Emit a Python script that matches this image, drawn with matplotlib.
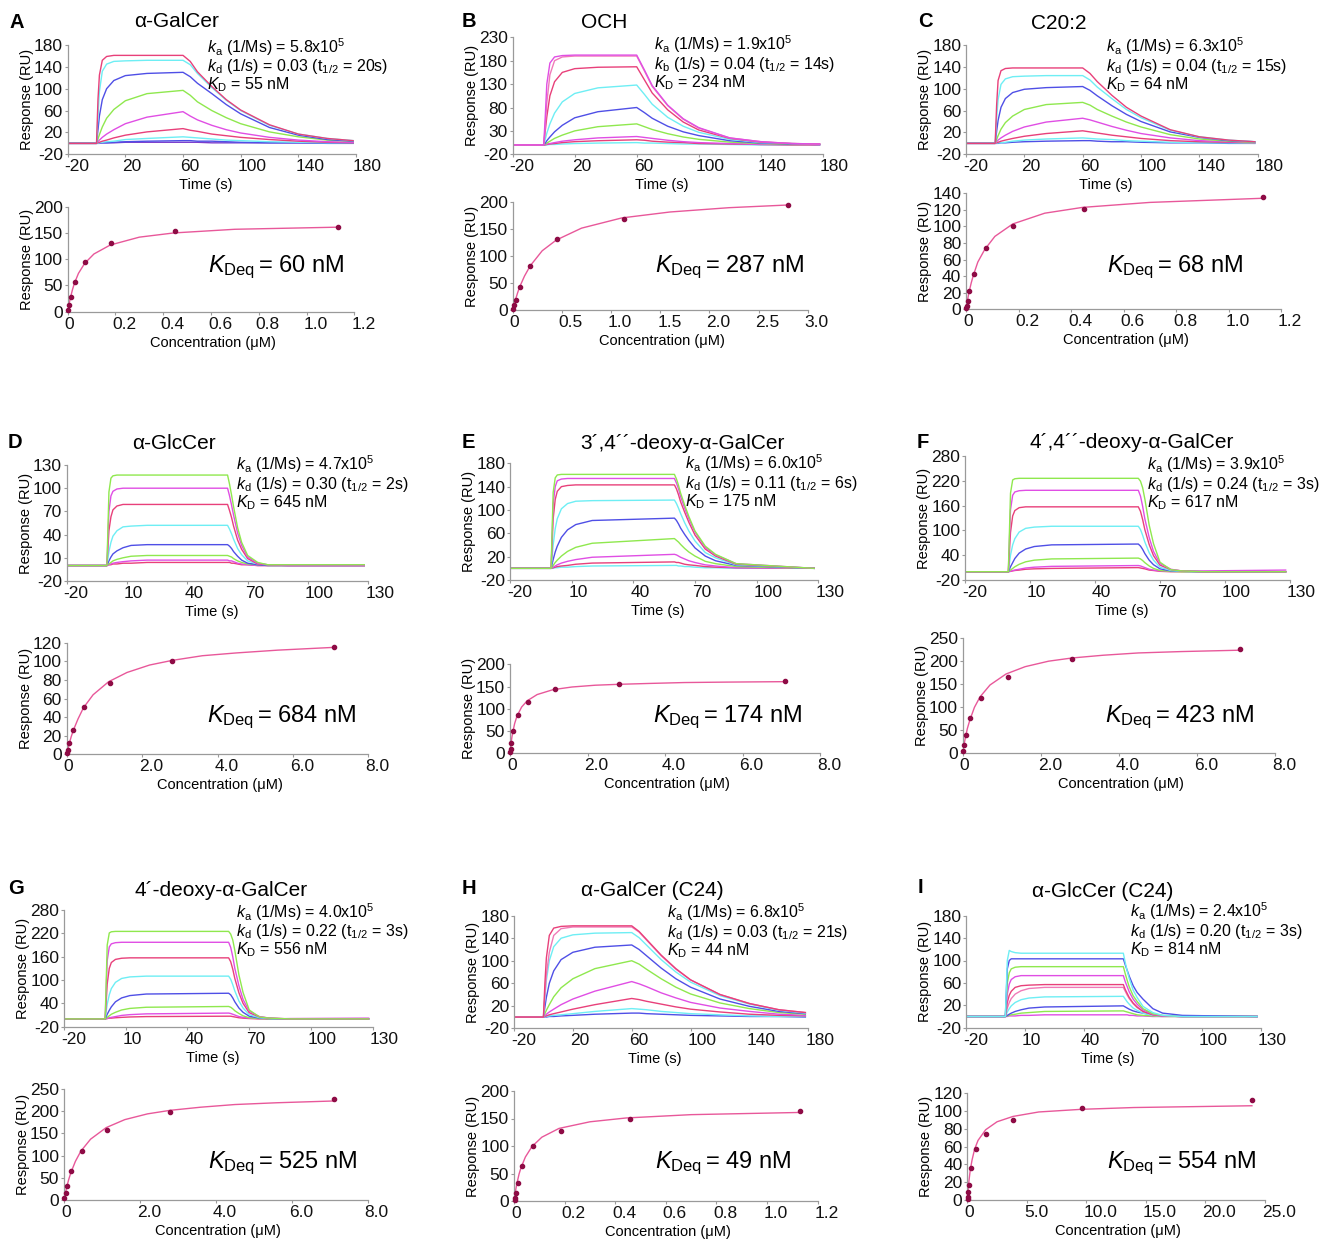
import matplotlib.pyplot as plt
from matplotlib.transforms import ScaledTranslation

plt.rcParams['font.family'] = ['Liberation Sans', 'DejaVu Sans']
plt.rcParams['mathtext.fontset'] = 'custom'
plt.rcParams['mathtext.rm'] = 'Liberation Sans'
plt.rcParams['mathtext.it'] = 'Liberation Sans:italic'
plt.rcParams['mathtext.bf'] = 'Liberation Sans:bold'

W, H = 1325, 1239

# ---- sensorgram time grids (s)
t_slow = [-20, 0, 1, 2, 4, 7, 12, 20, 35, 60, 65, 70, 80, 90, 100, 120, 140, 160, 178]
t_fast = [-20, 0, 1, 2, 3, 5, 8, 12, 20, 60, 61, 62, 63, 65, 67, 70, 75, 80, 90, 128]

# ---- sensorgram responses (RU), one list per injected concentration
sens_a = [
    [0, 0, 80, 125, 152, 159, 161, 161, 161, 161, 150, 131, 104, 80, 61, 34, 17, 9, 5],
    [0, 0, 50, 95, 132, 145, 150, 151, 152, 152, 144, 128, 102, 79, 60, 33, 17, 9, 5],
    [0, 0, 25, 50, 80, 100, 115, 124, 128, 130, 122, 110, 91, 71, 54, 29, 15, 7, 4],
    [0, 0, 8, 16, 30, 46, 62, 78, 91, 97, 88, 76, 60, 47, 36, 21, 12, 6, 4],
    [0, 0, 3, 6, 11, 17, 25, 36, 48, 58, 50, 43, 33, 25, 19, 11, 6, 3, 2],
    [0, 0, 1, 2, 4, 6, 10, 15, 21, 27, 24, 22, 17, 14, 11, 7, 4, 2, 1],
    [0, 0, 0, 1, 2, 3, 4, 7, 9, 12, 11, 10, 8, 6, 5, 3, 2, 1, 1],
    [0, 0, 0, 0, 1, 1, 2, 3, 4, 5, 5, 4, 4, 3, 2, 1, 1, 0, 0],
    [1, 1, 1, 1, 1, 1, 1, 2, 2, 2, 2, 2, 1, 1, 1, 1, 1, 1, 1],
]
sens_b = [
    [0, 0, 60, 130, 175, 188, 191, 192, 192, 192, 160, 127, 85, 56, 37, 15, 7, 3, 2],
    [0, 0, 40, 90, 150, 180, 188, 190, 190, 190, 158, 125, 84, 55, 36, 15, 7, 3, 2],
    [0, 0, 30, 60, 105, 135, 155, 163, 166, 167, 139, 111, 75, 49, 32, 14, 6, 3, 2],
    [0, 0, 12, 25, 45, 68, 92, 110, 122, 128, 108, 87, 59, 40, 27, 12, 5, 3, 1],
    [0, 0, 4, 9, 17, 28, 42, 58, 71, 80, 69, 57, 40, 28, 20, 9, 4, 2, 1],
    [0, 0, 2, 4, 8, 14, 21, 30, 39, 45, 39, 33, 24, 17, 12, 6, 3, 1, 1],
    [0, 0, 1, 2, 3, 5, 8, 11, 15, 18, 16, 14, 10, 7, 5, 3, 1, 1, 0],
    [0, 0, 0, 1, 2, 3, 5, 7, 9, 11, 10, 8, 6, 5, 3, 2, 1, 0, 0],
    [0, 0, 0, 0, 1, 1, 2, 3, 4, 5, 4, 4, 3, 2, 2, 1, 0, 0, 0],
]
sens_c = [
    [0, 0, 70, 115, 133, 137, 138, 138, 138, 138, 128, 113, 88, 66, 50, 25, 12, 6, 3],
    [0, 0, 45, 80, 108, 118, 122, 123, 124, 124, 116, 103, 82, 62, 47, 24, 12, 6, 3],
    [0, 0, 22, 42, 66, 82, 93, 99, 102, 104, 97, 87, 69, 53, 40, 21, 11, 5, 3],
    [0, 0, 7, 14, 26, 38, 50, 62, 71, 75, 70, 62, 50, 39, 30, 16, 8, 4, 2],
    [0, 0, 3, 6, 10, 15, 22, 30, 39, 46, 43, 39, 31, 24, 18, 10, 5, 3, 2],
    [0, 0, 1, 2, 4, 6, 9, 13, 18, 23, 21, 19, 15, 12, 9, 5, 3, 2, 1],
    [0, 0, 0, 1, 1, 2, 4, 6, 8, 10, 9, 8, 7, 5, 4, 2, 1, 1, 0],
    [0, 0, 0, 0, 1, 1, 2, 3, 4, 5, 5, 4, 3, 3, 2, 1, 1, 0, 0],
]
sens_d = [
    [0, 0, 95, 113, 116, 117, 117, 117, 117, 117, 105, 91, 76, 49, 30, 13, 4, 1, 1, 1],
    [0, 0, 70, 90, 96, 99, 100, 100, 100, 100, 90, 78, 65, 42, 26, 11, 3, 1, 0, 0],
    [0, 0, 45, 63, 72, 77, 79, 79, 79, 79, 71, 62, 51, 33, 21, 9, 2, 1, 0, 0],
    [0, 0, 18, 30, 38, 45, 50, 51, 52, 52, 47, 41, 34, 22, 14, 6, 2, 1, 0, 0],
    [0, 0, 6, 11, 15, 19, 23, 26, 27, 27, 25, 22, 18, 12, 7, 3, 1, 0, 0, 0],
    [0, 0, 2, 4, 6, 8, 10, 12, 13, 13, 12, 11, 9, 6, 4, 2, 1, 0, 0, 0],
    [0, 0, 1, 2, 3, 4, 5, 6, 7, 7, 6, 6, 5, 3, 2, 1, 0, 0, 0, 0],
    [0, 0, 1, 1, 2, 2, 3, 3, 4, 4, 4, 3, 3, 2, 1, 1, 0, 0, 0, 0],
]
sens_e = [
    [0, 0, 130, 155, 160, 161, 161, 161, 161, 161, 153, 142, 129, 108, 89, 64, 38, 24, 8, 0],
    [0, 0, 110, 140, 150, 153, 154, 154, 154, 154, 146, 136, 123, 103, 85, 62, 36, 23, 8, 0],
    [0, 0, 85, 118, 132, 140, 142, 143, 143, 143, 136, 126, 114, 96, 79, 57, 33, 21, 7, 0],
    [0, 0, 40, 68, 85, 102, 111, 115, 116, 117, 111, 103, 94, 78, 64, 47, 27, 18, 6, 0],
    [0, 0, 15, 28, 38, 53, 66, 75, 82, 86, 82, 76, 69, 58, 48, 35, 21, 13, 5, 0],
    [0, 0, 5, 10, 14, 21, 29, 36, 43, 51, 48, 45, 41, 34, 28, 21, 12, 8, 3, 0],
    [0, 0, 2, 4, 6, 9, 12, 15, 19, 24, 23, 21, 19, 16, 13, 10, 6, 4, 1, 0],
    [0, 0, 1, 2, 3, 4, 5, 7, 9, 11, 10, 10, 9, 7, 6, 5, 3, 2, 1, 0],
    [0, 0, 0, 1, 1, 2, 2, 3, 4, 5, 5, 4, 4, 3, 3, 2, 1, 1, 0, 0],
]
sens_f = [
    [0, 0, 190, 222, 225, 226, 226, 226, 226, 226, 219, 203, 176, 113, 68, 23, 5, 2, 0, 0],
    [0, 0, 150, 185, 193, 196, 197, 197, 197, 197, 183, 158, 128, 83, 49, 20, 6, 2, 0, 0],
    [0, 0, 95, 135, 148, 155, 157, 157, 157, 157, 146, 126, 102, 66, 39, 16, 5, 2, 0, 0],
    [0, 0, 40, 65, 80, 96, 105, 108, 110, 110, 102, 88, 72, 46, 28, 11, 3, 1, 0, 0],
    [0, 0, 12, 22, 32, 45, 55, 61, 65, 67, 62, 54, 44, 28, 17, 7, 2, 1, 0, 0],
    [0, 0, 4, 8, 12, 18, 24, 28, 31, 33, 31, 27, 22, 14, 8, 3, 1, 0, 0, 0],
    [0, 0, 1, 3, 4, 6, 9, 11, 13, 15, 14, 12, 10, 6, 4, 2, 1, 1, 2, 4],
    [0, 0, 1, 2, 3, 4, 6, 7, 8, 10, 9, 8, 7, 4, 3, 1, 0, 0, 0, 0],
]
sens_g = [
    [0, 0, 190, 221, 224, 225, 225, 225, 225, 225, 218, 203, 176, 113, 68, 23, 5, 2, 0, 0],
    [0, 0, 150, 185, 193, 196, 197, 197, 197, 197, 184, 160, 130, 85, 50, 20, 6, 2, 0, 0],
    [0, 0, 90, 130, 145, 153, 156, 157, 157, 157, 147, 128, 104, 67, 40, 16, 5, 2, 0, 0],
    [0, 0, 38, 62, 78, 94, 104, 108, 110, 110, 102, 88, 72, 46, 28, 11, 3, 1, 0, 0],
    [0, 0, 12, 22, 31, 44, 54, 60, 64, 66, 62, 54, 44, 28, 17, 7, 2, 1, 0, 0],
    [0, 0, 4, 8, 12, 17, 23, 27, 30, 32, 30, 26, 21, 14, 8, 3, 1, 0, 0, 0],
    [0, 0, 1, 3, 4, 6, 9, 11, 13, 15, 14, 12, 10, 6, 4, 2, 1, 0, 1, 2],
    [0, 0, 1, 2, 2, 3, 4, 5, 6, 7, 7, 6, 5, 3, 2, 1, 0, 0, 0, 0],
]
sens_h = [
    [0, 0, 60, 105, 145, 158, 161, 162, 162, 162, 152, 138, 110, 86, 66, 40, 24, 13, 8],
    [0, 0, 40, 75, 115, 145, 157, 160, 160, 160, 151, 137, 109, 85, 66, 40, 24, 13, 8],
    [0, 0, 35, 65, 100, 125, 140, 146, 149, 150, 141, 128, 102, 80, 62, 38, 23, 12, 7],
    [0, 0, 18, 35, 60, 82, 102, 115, 124, 128, 120, 109, 87, 68, 53, 32, 19, 10, 6],
    [0, 0, 6, 12, 22, 36, 52, 68, 86, 100, 94, 85, 68, 53, 41, 25, 15, 8, 5],
    [0, 0, 2, 5, 9, 14, 22, 32, 46, 63, 59, 54, 43, 34, 26, 16, 10, 5, 3],
    [0, 0, 1, 2, 4, 6, 9, 14, 22, 33, 31, 28, 23, 18, 14, 9, 5, 3, 2],
    [0, 0, 0, 1, 2, 3, 4, 6, 10, 15, 14, 13, 10, 8, 6, 4, 2, 1, 1],
    [0, 0, 0, 0, 1, 1, 2, 3, 5, 7, 7, 6, 5, 4, 3, 2, 1, 1, 0],
]
sens_i = [
    [0, 0, 100, 118, 116, 114, 113, 113, 113, 113, 96, 81, 68, 47, 34, 18, 7, 2, 0, 0],
    [0, 0, 85, 100, 103, 103, 103, 103, 103, 103, 92, 82, 72, 55, 43, 31, 14, 6, 2, 0],
    [0, 0, 60, 78, 85, 88, 89, 89, 89, 89, 76, 64, 53, 37, 27, 14, 5, 2, 0, 0],
    [0, 0, 40, 58, 66, 71, 73, 73, 73, 73, 62, 53, 44, 31, 22, 12, 4, 1, 0, 0],
    [0, 0, 25, 38, 45, 52, 55, 56, 57, 57, 48, 41, 34, 24, 17, 9, 3, 1, 0, 0],
    [0, 0, 15, 25, 32, 40, 46, 50, 52, 52, 45, 38, 32, 23, 16, 9, 3, 1, 0, 0],
    [0, 0, 8, 14, 19, 25, 30, 33, 35, 36, 31, 26, 22, 15, 11, 6, 2, 1, 0, 0],
    [0, 0, 2, 4, 6, 9, 12, 15, 17, 19, 17, 15, 13, 10, 8, 6, 3, 1, 0, 0],
    [0, 0, 1, 2, 3, 4, 6, 7, 9, 10, 9, 8, 7, 5, 3, 2, 1, 0, 0, 0],
    [0, 0, 0, 1, 1, 1, 2, 2, 3, 3, 3, 3, 2, 2, 1, 1, 0, 0, 0, 0],
]

# ---- steady-state points (uM, RU) and fitted curve
conc_a = [1.13, 0.45, 0.18, 0.073, 0.029, 0.012, 0.005, 0.002]
resp_a = [162, 153, 130, 95, 57, 28, 12, 4]
fit_a_x = [0, 0.005, 0.011, 0.02, 0.028, 0.045, 0.071, 0.11, 0.178, 0.3, 0.444, 0.7, 1.13]
fit_a_y = [0, 13, 26, 42, 54, 73, 92, 110, 127, 142, 150, 157, 161]

conc_b = [2.8, 1.13, 0.45, 0.18, 0.075, 0.03, 0.012, 0.004]
resp_b = [195, 169, 131, 82, 43, 19, 9, 2]
fit_b_x = [0, 0.01, 0.028, 0.05, 0.071, 0.12, 0.178, 0.3, 0.444, 0.7, 1.11, 1.6, 2.2, 2.8]
fit_b_y = [0, 7, 19, 32, 43, 63, 82, 110, 130, 152, 171, 182, 190, 195]

conc_c = [1.13, 0.45, 0.18, 0.075, 0.03, 0.013, 0.006, 0.003, 0.001]
resp_c = [136, 121, 101, 74, 43, 22, 10, 4, 1]
fit_c_x = [0, 0.005, 0.011, 0.02, 0.028, 0.045, 0.071, 0.11, 0.178, 0.3, 0.444, 0.7, 1.13]
fit_c_y = [0, 10, 20, 32, 41, 57, 72, 88, 103, 116, 123, 129, 134]

conc_d = [7.1, 2.8, 1.15, 0.47, 0.18, 0.07, 0.03, 0.01]
resp_d = [115, 100, 77, 51, 26, 12, 5, 1]
fit_d_x = [0, 0.03, 0.071, 0.12, 0.178, 0.3, 0.444, 0.7, 1.11, 1.6, 2.2, 2.8, 3.6, 4.5, 5.6, 7.1]
fit_d_y = [0, 5, 12, 19, 26, 38, 50, 64, 78, 88, 96, 101, 106, 109, 112, 115]

conc_e = [7.1, 2.8, 1.16, 0.47, 0.2, 0.09, 0.035, 0.015, 0.005]
resp_e = [162, 156, 144, 116, 86, 49, 24, 9, 2]
fit_e_x = [0, 0.011, 0.028, 0.05, 0.071, 0.12, 0.178, 0.3, 0.444, 0.7, 1.11, 1.6, 2.2, 2.8, 3.6, 4.5, 5.6, 7.1]
fit_e_y = [0, 10, 23, 37, 47, 67, 83, 104, 118, 132, 143, 149, 153, 155, 157, 159, 160, 161]

conc_f = [7.1, 2.8, 1.15, 0.47, 0.19, 0.085, 0.04, 0.015]
resp_f = [227, 205, 166, 120, 75, 39, 17, 4]
fit_f_x = [0, 0.028, 0.071, 0.12, 0.178, 0.3, 0.444, 0.7, 1.11, 1.6, 2.2, 2.8, 3.6, 4.5, 5.6, 7.1]
fit_f_y = [0, 15, 34, 53, 70, 99, 122, 148, 172, 188, 200, 207, 213, 218, 221, 224]

conc_g = [7.1, 2.8, 1.13, 0.47, 0.19, 0.09, 0.04, 0.01]
resp_g = [227, 199, 158, 110, 65, 32, 15, 5]
fit_g_x = [0, 0.028, 0.071, 0.12, 0.178, 0.3, 0.444, 0.7, 1.11, 1.6, 2.2, 2.8, 3.6, 4.5, 5.6, 7.1]
fit_g_y = [0, 12, 29, 45, 61, 87, 110, 137, 163, 181, 194, 202, 209, 215, 219, 223]

conc_h = [1.13, 0.46, 0.185, 0.075, 0.032, 0.016, 0.009, 0.005, 0.002]
resp_h = [164, 150, 128, 100, 64, 33, 15, 6, 2]
fit_h_x = [0, 0.005, 0.011, 0.02, 0.028, 0.045, 0.071, 0.11, 0.178, 0.3, 0.444, 0.7, 1.13]
fit_h_y = [0, 16, 31, 49, 61, 80, 99, 116, 132, 144, 151, 157, 161]

conc_i = [23.9, 9.6, 3.84, 1.58, 0.7, 0.32, 0.15, 0.1, 0.07, 0.05]
resp_i = [112, 103, 90, 74, 57, 36, 17, 9, 3, 1]
fit_i_x = [0, 0.04, 0.1, 0.17, 0.25, 0.4, 0.61, 0.9, 1.54, 2.5, 3.84, 6, 9.6, 14, 19, 23.9]
fit_i_y = [0, 7, 17, 25, 34, 45, 57, 67, 79, 88, 94, 99, 102, 104, 105, 106]

# ---- text
letters = ['A', 'B', 'C', 'D', 'E', 'F', 'G', 'H', 'I']
names = ['\u03b1-GalCer', 'OCH', 'C20:2', '\u03b1-GlcCer', '3\u00b4,4\u00b4\u00b4-deoxy-\u03b1-GalCer',
         '4\u00b4,4\u00b4\u00b4-deoxy-\u03b1-GalCer', '4\u00b4-deoxy-\u03b1-GalCer',
         '\u03b1-GalCer (C24)', '\u03b1-GlcCer (C24)']
ka_vals = ['5.8', '1.9', '6.3', '4.7', '6.0', '3.9', '4.0', '6.8', '2.4']
kd_vals = ['0.03', '0.04', '0.04', '0.30', '0.11', '0.24', '0.22', '0.03', '0.20']
half_lives = ['20s', '14s', '15s', '2s', '6s', '3s', '3s', '21s', '3s']
kd_sub = ['d', 'b', 'd', 'd', 'd', 'd', 'd', 'd', 'd']
KD_vals = ['55', '234', '64', '645', '175', '617', '556', '44', '814']
KDeq_vals = ['60', '287', '68', '684', '174', '423', '525', '49', '554']

# ---- styling / layout (pixel boxes: x0, x1, ytop, ybottom)
RED, CYAN, BLUE, GREEN = '#e8407a', '#6eeef4', '#4f4fe6', '#8fe84e'
MAG, PINK, PURP = '#e04ee4', '#f07ab8', '#7a3ccc'

sens_cols = [
    [RED, CYAN, BLUE, GREEN, MAG, RED, CYAN, BLUE, PURP],
    [MAG, PINK, RED, CYAN, BLUE, GREEN, MAG, RED, CYAN],
    [RED, CYAN, BLUE, GREEN, MAG, RED, CYAN, BLUE],
    [GREEN, MAG, RED, CYAN, BLUE, GREEN, MAG, RED],
    [GREEN, MAG, RED, CYAN, BLUE, GREEN, MAG, RED, CYAN],
    [GREEN, MAG, RED, CYAN, BLUE, GREEN, MAG, RED],
    [GREEN, MAG, RED, CYAN, BLUE, GREEN, MAG, RED],
    [RED, PINK, CYAN, BLUE, GREEN, MAG, RED, CYAN, BLUE],
    [CYAN, BLUE, GREEN, MAG, RED, PINK, CYAN, BLUE, GREEN, MAG],
]

sens_box = [(67.7, 356, 45, 154.3), (512.7, 822.7, 37.3, 154.3), (966, 1257.7, 45, 154.3),
            (66.7, 368.3, 465, 581), (510, 818.3, 463.3, 580), (965, 1290, 456, 580),
            (64, 372.7, 910, 1026.7), (514, 808.3, 915.7, 1028.3), (966, 1261, 915.7, 1027.7)]
eq_box = [(67.7, 354.3, 206.7, 311.7), (512.7, 807.7, 202.3, 310), (966, 1281, 193.3, 309.3),
          (66.7, 368.3, 642.7, 754.3), (510, 820, 664.3, 753.3), (962.7, 1275, 638.3, 752.7),
          (64, 367.7, 1089, 1200), (514, 817.7, 1091, 1201), (967.3, 1265, 1093.3, 1200)]

sens_y = [(-20, 180, 40), (-20, 230, 50), (-20, 180, 40), (-20, 130, 30), (-20, 180, 40),
          (-20, 280, 60), (-20, 280, 60), (-20, 180, 40), (-20, 180, 40)]
eq_y = [(200, 50), (200, 50), (140, 20), (120, 20), (200, 50), (250, 50), (250, 50), (200, 50), (120, 20)]
eq_x = [(1.2, 0.2), (3.0, 0.5), (1.2, 0.2), (8.0, 2.0), (8.0, 2.0), (8.0, 2.0), (8.0, 2.0),
        (1.2, 0.2), (25.0, 5.0)]

letter_pos = [(10, 28), (462, 27), (918, 27), (8, 448), (462, 448), (917, 448),
              (8, 894), (462, 894), (918, 893)]
title_pos = [(177, 27), (604, 28), (1059, 29), (174, 449), (682, 449), (1132, 448),
             (221, 896), (652, 896), (1103, 897)]
kin_pos = [(207, 52.7), (654, 50), (1106, 52.3), (236, 470), (685, 469.3), (1147, 470),
           (236, 917.7), (667, 918.3), (1130, 917.3)]
kdeq_pos = [(208, 272), (655, 272), (1107, 272), (207, 722), (653, 722), (1105, 722),
            (208, 1168), (655, 1168), (1107, 1168)]

sens_all = [sens_a, sens_b, sens_c, sens_d, sens_e, sens_f, sens_g, sens_h, sens_i]
t_all = [t_slow, t_slow, t_slow, t_fast, t_fast, t_fast, t_fast, t_slow, t_fast]
conc_all = [conc_a, conc_b, conc_c, conc_d, conc_e, conc_f, conc_g, conc_h, conc_i]
resp_all = [resp_a, resp_b, resp_c, resp_d, resp_e, resp_f, resp_g, resp_h, resp_i]
fitx_all = [fit_a_x, fit_b_x, fit_c_x, fit_d_x, fit_e_x, fit_f_x, fit_g_x, fit_h_x, fit_i_x]
fity_all = [fit_a_y, fit_b_y, fit_c_y, fit_d_y, fit_e_y, fit_f_y, fit_g_y, fit_h_y, fit_i_y]

fig = plt.figure(figsize=(13.25, 12.39), dpi=100)
AX_COL = '#9a9a9a'


def add_ax(b):
    x0, x1, yt, yb = b
    return fig.add_axes([x0 / W, 1 - yb / H, (x1 - x0) / W, (yb - yt) / H])


def style(ax, xt, xl, yt):
    for s in ['top', 'right']:
        ax.spines[s].set_visible(False)
    for s in ['left', 'bottom']:
        ax.spines[s].set_color(AX_COL)
        ax.spines[s].set_linewidth(0.9)
    ax.tick_params(length=2.2, width=0.8, color=AX_COL, labelsize=12.5, pad=1.3, labelcolor='#111111')
    ax.set_xticks(xt)
    ax.set_xticklabels(xl, ha='left')
    off = ScaledTranslation(-3 / 100, 0, fig.dpi_scale_trans)
    for lab in ax.get_xticklabels():
        lab.set_transform(lab.get_transform() + off)
    ax.set_yticks(yt)
    ax.set_yticklabels([str(v) for v in yt])


def ftext(x, y, s, **kw):
    fig.text(x / W, 1 - y / H, s, **kw)


for i in range(9):
    # sensorgram
    sb = sens_box[i]
    ax = add_ax(sb)
    t = t_all[i]
    for vals, col in reversed(list(zip(sens_all[i], sens_cols[i]))):
        ax.plot(t, vals, color=col, lw=1.0)
    xmax = 180 if t is t_slow else 130
    step = 40 if t is t_slow else 30
    ax.set_xlim(-20, xmax)
    y0, y1, ys = sens_y[i]
    ax.set_ylim(y0, y1)
    xt = list(range(-20, xmax + 1, step))
    style(ax, xt, [str(v) for v in xt], list(range(y0, y1 + 1, ys)))
    cx = (sb[0] + sb[1]) / 2
    ftext(cx - 6, sb[3] + 31, 'Time (s)', fontsize=10.5, ha='center', va='center')
    ftext(sb[0] - 41, (sb[2] + sb[3]) / 2, 'Response (RU)', fontsize=10.5, ha='center', va='center',
          rotation=90)

    # steady-state affinity
    eb = eq_box[i]
    ax2 = add_ax(eb)
    ax2.plot(fitx_all[i], fity_all[i], color='#e8589a', lw=1.0)
    ax2.plot(conc_all[i], resp_all[i], 'o', color='#8e0b45', ms=3.0, clip_on=False, zorder=5)
    xm, xs = eq_x[i]
    ym, yst = eq_y[i]
    ax2.set_xlim(0, xm)
    ax2.set_ylim(0, ym)
    n = int(round(xm / xs))
    xt2 = [k * xs for k in range(n + 1)]
    xl2 = ['0'] + ['%.1f' % v for v in xt2[1:]]
    style(ax2, xt2, xl2, list(range(0, ym + 1, yst)))
    cx2 = (eb[0] + eb[1]) / 2
    ftext(cx2 + 2, eb[3] + 31, 'Concentration (\u03bcM)', fontsize=10.5, ha='center', va='center')
    ftext(eb[0] - 41, (eb[2] + eb[3]) / 2, 'Response (RU)', fontsize=10.5, ha='center', va='center',
          rotation=90)

    # labels
    lx, ly = letter_pos[i]
    ftext(lx, ly, letters[i], fontsize=14.5, fontweight='bold', ha='left', va='baseline')
    tx, ty = title_pos[i]
    ftext(tx, ty, names[i], fontsize=15, ha='center', va='baseline')
    kx, ky = kin_pos[i]
    ftext(kx, ky, r'$\mathit{k}_\mathrm{a}$ (1/Ms) = ' + ka_vals[i] + r'x10$^\mathrm{5}$',
          fontsize=11.5, ha='left', va='baseline')
    ftext(kx, ky + 18.5, r'$\mathit{k}_\mathrm{' + kd_sub[i] + r'}$ (1/s) = ' + kd_vals[i]
          + r' (t$_\mathrm{1/2}$ = ' + half_lives[i] + ')', fontsize=11.5, ha='left', va='baseline')
    ftext(kx, ky + 37, r'$\mathit{K}_\mathrm{D}$ = ' + KD_vals[i] + ' nM',
          fontsize=11.5, ha='left', va='baseline')
    qx, qy = kdeq_pos[i]
    ftext(qx, qy, r'$\mathit{K}_\mathrm{Deq}\,$= ' + KDeq_vals[i] + ' nM',
          fontsize=17, ha='left', va='baseline')

fig.savefig('out.png', dpi=100)
